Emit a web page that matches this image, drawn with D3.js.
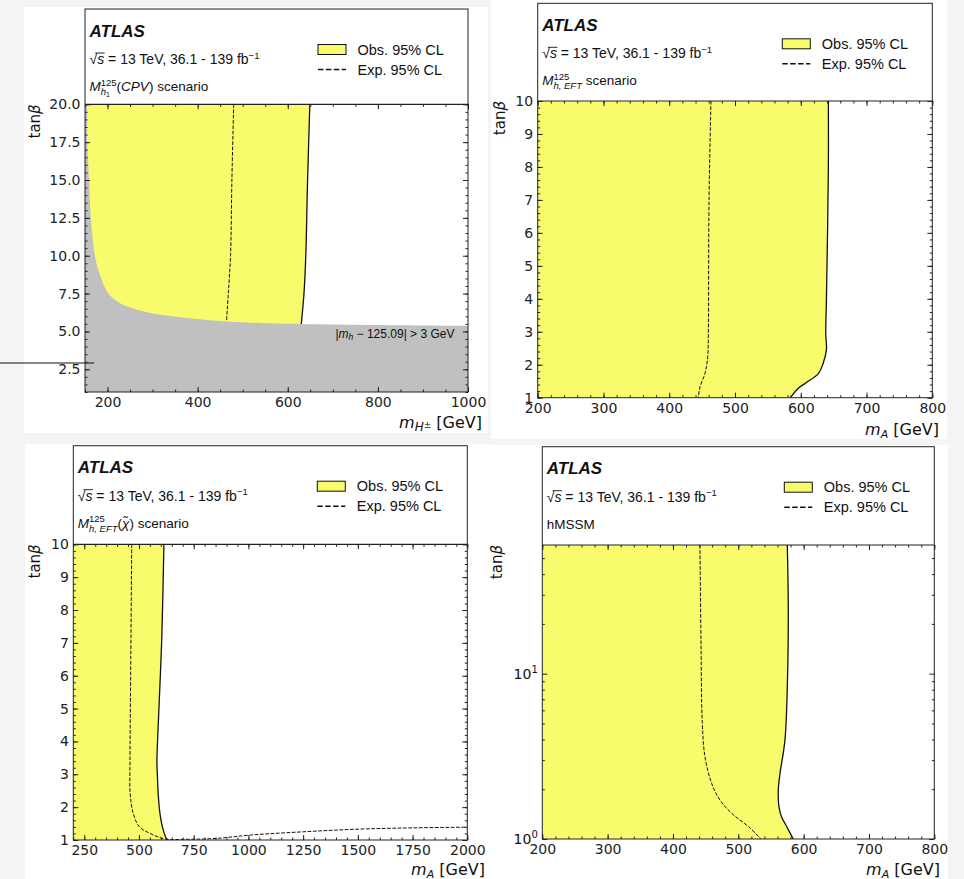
<!DOCTYPE html>
<html>
<head>
<meta charset="utf-8">
<script src="https://cdn.jsdelivr.net/npm/d3@7"></script>
<style>
  body { margin: 0; background: #f4f4f4; }
  svg { display: block; }
</style>
</head>
<body>
<svg id="drawing_region"></svg>
<script>
// ---- data (x = mass in GeV, y = tanβ) ----

// (a) M_h1^125(CPV), charged Higgs mass
const cpvXTicks = [200, 400, 600, 800, 1000];
const cpvYTicks = [2.5, 5.0, 7.5, 10.0, 12.5, 15.0, 17.5, 20.0];
const cpvObs = [[649, 20], [644, 15], [640, 10], [636, 7.5], [630, 5.49]];
const cpvExp = [[480, 20], [476, 15], [473, 10], [468, 7.5], [464, 5.64]];
// |m_h - 125.09| > 3 GeV boundary (grey region below it)
const cpvMhBound = [[155, 20], [155, 17.6], [159, 15], [163, 12.5], [172, 10], [182, 8.84],
  [202, 7.5], [228, 6.86], [268, 6.41], [323, 6.08], [434, 5.72], [538, 5.55], [630, 5.49],
  [800, 5.42], [1000, 5.36]];

// (b) M_h,EFT^125
const eftXTicks = [200, 300, 400, 500, 600, 700, 800];
const eftYTicks = [1, 2, 3, 4, 5, 6, 7, 8, 9, 10];
const eftObs = [[642, 10], [642, 8], [639, 3.96], [638, 2.95], [639, 2.45], [634, 2.04],
  [627, 1.74], [607, 1.44], [596, 1.28], [584, 1.0]];
const eftExp = [[463.5, 10], [460.5, 7], [459.5, 2.95], [458.5, 2.24], [454.4, 1.74],
  [446.8, 1.33], [444.3, 1.0]];

// (c) M_h,EFT^125(chi)
const chiXTicks = [250, 500, 750, 1000, 1250, 1500, 1750, 2000];
const chiYTicks = [1, 2, 3, 4, 5, 6, 7, 8, 9, 10];
const chiObs = [[614, 10], [604, 7.1], [588, 4.5], [582, 3.4], [584, 3.0], [588, 2.4],
  [596, 1.8], [611, 1.3], [627, 1.03], [635, 1.0]];
const chiExp = [[467, 10], [462, 6], [459, 3.4], [460, 2.4], [474, 1.8], [502, 1.4],
  [551, 1.2], [619, 1.03], [703, 1.02], [856, 1.05], [1008, 1.15], [1251, 1.25],
  [1502, 1.33], [1753, 1.37], [2000, 1.39]];

// (d) hMSSM, log tanβ
const hmXTicks = [200, 300, 400, 500, 600, 700, 800];
const hmYTicks = [1, 10];
const hmYMinor = [2, 3, 4, 5, 6, 7, 8, 9, 20, 30, 40, 50];
const hmObs = [[575, 60], [576.5, 25], [575.5, 10], [571.4, 3.96], [563.8, 2.49], [561.2, 1.98],
  [562.2, 1.57], [566.3, 1.36], [574, 1.19], [584.2, 1.0]];
const hmExp = [[441.3, 60], [442.9, 15.9], [444.9, 5], [449, 3.14], [459.2, 2.17],
  [471.9, 1.72], [489.8, 1.43], [515.3, 1.19], [534.7, 1.0]];
const hmCorner = [[206, 1], [202, 1.04], [200, 1.12]];

const yellow = "#f8fb6c", grey = "#c0c0c0", ink = "#222";
const headFont = "Liberation Sans, Arial, sans-serif";
const tickFont = "DejaVu Sans, sans-serif";

const svg = d3.select("#drawing_region").attr("width", 964).attr("height", 879);

// text with italic / sub / superscript pieces
function rich(g, x, y, parts, o) {
  const t = g.append("text").attr("x", x).attr("y", y)
    .attr("font-family", o.font).attr("font-size", o.size)
    .attr("text-anchor", o.anchor || "start").attr("fill", "#111");
  let cur = 0, pend = 0;
  function add(p) {
    const s = t.append("tspan").text(p.t);
    if (p.i) s.attr("font-style", "italic");
    if (p.b) s.attr("font-weight", "bold");
    if (p.fs) s.attr("font-size", p.fs);
    const off = p.dy || 0;
    if (off !== cur) { s.attr("dy", off - cur); cur = off; }
    const dx = (p.dx || 0) + pend; pend = 0;
    if (dx) s.attr("dx", dx);
    return s.node().getComputedTextLength();
  }
  parts.forEach(p => {
    if (p.sup) {
      const w1 = d3.sum(p.sup, add);
      pend = -w1;
      const w2 = d3.sum(p.sub, add);
      pend = Math.max(w1 - w2, 0);
    } else add(p);
  });
  return t;
}

const sup125 = { sup: [{ t: "125", fs: 9.5, dy: -5.5 }], sub: [{ t: "h, EFT", i: true, fs: 9.5, dy: 4 }] };

const panels = [
  { bg: [24, 7, 464, 426], left: 85, right: 468, head: 9, top: 104.3, bottom: 392,
    xDomain: [150, 1000], yDomain: [1, 20], xTicks: cpvXTicks, xStep: 50,
    yTicks: cpvYTicks, yStep: 0.5, yFmt: d3.format(".1f"),
    obs: cpvObs, exp: cpvExp, corner: [[150, 1]], bound: cpvMhBound,
    scen: [{ t: "M", i: true }, { sup: [{ t: "125", fs: 9.5, dy: -5.5 }],
      sub: [{ t: "h", i: true, fs: 9.5, dy: 4 }, { t: "1", fs: 7, dy: 6 }] },
      { t: "(" }, { t: "CPV", i: true }, { t: ")" }, { t: " scenario" }],
    xlab: [{ t: "m", i: true }, { t: "H", i: true, fs: 12, dy: 3 }, { t: "±", fs: 9, dy: 0 }, { t: "  [GeV]" }],
    ylabX: 39.5, xlabX: 482, xlabY: 428 },
  { bg: [491, 0, 456, 439], left: 537.7, right: 932.3, head: 3.3, top: 101, bottom: 397.7,
    xDomain: [200, 800], yDomain: [1, 10], xTicks: eftXTicks, xStep: 20,
    yTicks: eftYTicks, yStep: 0.2, yFmt: d3.format("d"),
    obs: eftObs, exp: eftExp, corner: [[200, 1]],
    scen: [{ t: "M", i: true }, sup125, { t: " scenario" }],
    xlab: [{ t: "m", i: true }, { t: "A", i: true, fs: 11, dy: 3 }, { t: " [GeV]" }],
    ylabX: 504.7, xlabX: 939, xlabY: 435 },
  { bg: [25, 444, 465, 435], left: 73.3, right: 467.3, head: 445.7, top: 544.3, bottom: 840,
    xDomain: [200, 2000], yDomain: [1, 10], xTicks: chiXTicks, xStep: 50,
    yTicks: chiYTicks, yStep: 0.2, yFmt: d3.format("d"),
    obs: chiObs, exp: chiExp, corner: [[200, 1]],
    scen: [{ t: "M", i: true }, sup125, { t: "(" }, { t: "χ̃", i: true }, { t: ")" }, { t: " scenario" }],
    xlab: [{ t: "m", i: true }, { t: "A", i: true, fs: 11, dy: 3 }, { t: " [GeV]" }],
    ylabX: 39.7, xlabX: 485, xlabY: 874.5 },
  { bg: [490, 445, 458, 434], left: 542.3, right: 934.3, head: 446.7, top: 545, bottom: 839,
    xDomain: [200, 800], yDomain: [1, 60], log: true, xTicks: hmXTicks, xStep: 20,
    yTicks: hmYTicks, yMinor: hmYMinor,
    obs: hmObs, exp: hmExp, corner: hmCorner,
    scen: [{ t: "hMSSM" }],
    xlab: [{ t: "m", i: true }, { t: "A", i: true, fs: 11, dy: 3 }, { t: " [GeV]" }],
    ylabX: 502.4, xlabX: 940, xlabY: 874.5 }
];

panels.forEach((cfg, k) => drawPanel(cfg, k));

// stray rule at the left edge of the first panel
svg.append("line").attr("x1", 0).attr("x2", 94).attr("y1", 363).attr("y2", 363)
  .attr("stroke", "#111").attr("stroke-width", 1.2);

function drawPanel(cfg, k) {
  const g = svg.append("g");
  g.append("rect").attr("x", cfg.bg[0]).attr("y", cfg.bg[1])
    .attr("width", cfg.bg[2]).attr("height", cfg.bg[3]).attr("fill", "#fff");

  const x = d3.scaleLinear().domain(cfg.xDomain).range([cfg.left, cfg.right]);
  const y = (cfg.log ? d3.scaleLog() : d3.scaleLinear()).domain(cfg.yDomain).range([cfg.bottom, cfg.top]);

  g.append("clipPath").attr("id", "clip" + k).append("rect")
    .attr("x", cfg.left).attr("y", cfg.top)
    .attr("width", cfg.right - cfg.left).attr("height", cfg.bottom - cfg.top);
  const plot = g.append("g").attr("clip-path", `url(#clip${k})`);

  const line = d3.line().x(d => x(d[0])).y(d => y(d[1])).curve(d3.curveCatmullRom.alpha(0.5));
  const [x0] = cfg.xDomain, [y0, y1] = cfg.yDomain;

  // observed exclusion
  let fill = line(cfg.obs);
  cfg.corner.forEach(c => { fill += `L${x(c[0])},${y(c[1])}`; });
  fill += `L${x(x0)},${y(y1)}Z`;
  plot.append("path").attr("d", fill).attr("fill", yellow);

  if (cfg.bound) {
    const gp = line(cfg.bound) + `L${x(cfg.xDomain[1])},${y(y0)}L${x(x0)},${y(y0)}L${x(x0)},${y(y1)}Z`;
    plot.append("path").attr("d", gp).attr("fill", grey);
    rich(plot, x(970), y(4.55), [{ t: "|" }, { t: "m", i: true }, { t: "h", i: true, fs: 8.5, dy: 2 },
      { t: " − 125.09| > 3 GeV" }], { font: headFont, size: 12, anchor: "end" });
  }

  plot.append("path").attr("d", line(cfg.exp)).attr("fill", "none")
    .attr("stroke", "#111").attr("stroke-width", 1).attr("stroke-dasharray", "3.7,1.6");
  plot.append("path").attr("d", line(cfg.obs)).attr("fill", "none")
    .attr("stroke", "#111").attr("stroke-width", 1.3);

  // ticks, all pointing inwards
  const xMinor = d3.range(cfg.xDomain[0], cfg.xDomain[1] + 1e-6, cfg.xStep);
  const yMinor = cfg.yMinor || d3.range(y0, y1 + 1e-6, cfg.yStep);
  const ax = (a, tr) => g.append("g").attr("transform", tr).attr("color", ink).call(a)
    .call(s => s.select(".domain").remove());

  const bx = ax(d3.axisBottom(x).tickValues(cfg.xTicks).tickSize(-5).tickPadding(5)
    .tickFormat(d3.format("d")), `translate(0,${cfg.bottom})`);
  ax(d3.axisBottom(x).tickValues(xMinor).tickSize(-2.5).tickFormat(""), `translate(0,${cfg.bottom})`);
  ax(d3.axisTop(x).tickValues(cfg.xTicks).tickSize(-5).tickFormat(""), `translate(0,${cfg.top})`);
  ax(d3.axisTop(x).tickValues(xMinor).tickSize(-2.5).tickFormat(""), `translate(0,${cfg.top})`);
  const by = ax(d3.axisLeft(y).tickValues(cfg.yTicks).tickSize(-5).tickPadding(4.5)
    .tickFormat(cfg.log ? "" : cfg.yFmt), `translate(${cfg.left},0)`);
  ax(d3.axisLeft(y).tickValues(yMinor).tickSize(-2.5).tickFormat(""), `translate(${cfg.left},0)`);
  ax(d3.axisRight(y).tickValues(cfg.yTicks).tickSize(-5).tickFormat(""), `translate(${cfg.right},0)`);
  ax(d3.axisRight(y).tickValues(yMinor).tickSize(-2.5).tickFormat(""), `translate(${cfg.right},0)`);
  [bx, by].forEach(s => s.selectAll("text").attr("font-family", tickFont).attr("font-size", 14).attr("fill", ink));

  if (cfg.log) {
    cfg.yTicks.forEach(v => rich(g, cfg.left - 4.5, y(v) + 5,
      [{ t: "10" }, { t: String(Math.round(Math.log10(v))), fs: 10, dy: -6 }],
      { font: tickFont, size: 14, anchor: "end" }));
  }

  // frame with header box on top
  g.append("rect").attr("x", cfg.left).attr("y", cfg.head)
    .attr("width", cfg.right - cfg.left).attr("height", cfg.bottom - cfg.head)
    .attr("fill", "none").attr("stroke", ink).attr("stroke-width", 1);
  g.append("line").attr("x1", cfg.left).attr("x2", cfg.right).attr("y1", cfg.top).attr("y2", cfg.top)
    .attr("stroke", ink).attr("stroke-width", 1.2);

  // header texts
  const tx = cfg.left + 4.5;
  rich(g, tx, cfg.head + 27.5, [{ t: "ATLAS", b: true, i: true }], { font: headFont, size: 17 });
  const rs = rich(g, tx, cfg.head + 55, [{ t: "√" }, { t: "s", i: true },
    { t: " = 13 TeV, 36.1 - 139 fb" }, { t: "−1", fs: 9.5, dy: -5.5 }], { font: headFont, size: 14 });
  const e0 = rs.node().getExtentOfChar(0), e1 = rs.node().getExtentOfChar(1);
  g.append("line").attr("x1", e0.x + e0.width * 0.75).attr("x2", e1.x + e1.width + 0.5)
    .attr("y1", cfg.head + 55 - 11).attr("y2", cfg.head + 55 - 11)
    .attr("stroke", "#111").attr("stroke-width", 0.9);
  rich(g, tx, cfg.head + 82, cfg.scen, { font: headFont, size: 13.5 });

  // legend
  const lx = cfg.right - 150;
  g.append("rect").attr("x", lx).attr("y", cfg.head + 35.5).attr("width", 28).attr("height", 10)
    .attr("fill", yellow).attr("stroke", "#111").attr("stroke-width", 1);
  g.append("line").attr("x1", lx).attr("x2", lx + 28).attr("y1", cfg.head + 60.5).attr("y2", cfg.head + 60.5)
    .attr("stroke", "#111").attr("stroke-width", 1.5).attr("stroke-dasharray", "5.5,2.4");
  rich(g, cfg.right - 110.5, cfg.head + 45.5, [{ t: "Obs. 95% CL" }], { font: headFont, size: 14.5 });
  rich(g, cfg.right - 110.5, cfg.head + 65.5, [{ t: "Exp. 95% CL" }], { font: headFont, size: 14.5 });

  // axis titles
  const yl = g.append("g").attr("transform", `translate(${cfg.ylabX},${cfg.top}) rotate(-90)`);
  rich(yl, 0, 0, [{ t: "tan" }, { t: "β", i: true }], { font: tickFont, size: 15, anchor: "end" });
  rich(g, cfg.xlabX, cfg.xlabY, cfg.xlab, { font: tickFont, size: 16, anchor: "end" });
}
</script>
</body>
</html>
